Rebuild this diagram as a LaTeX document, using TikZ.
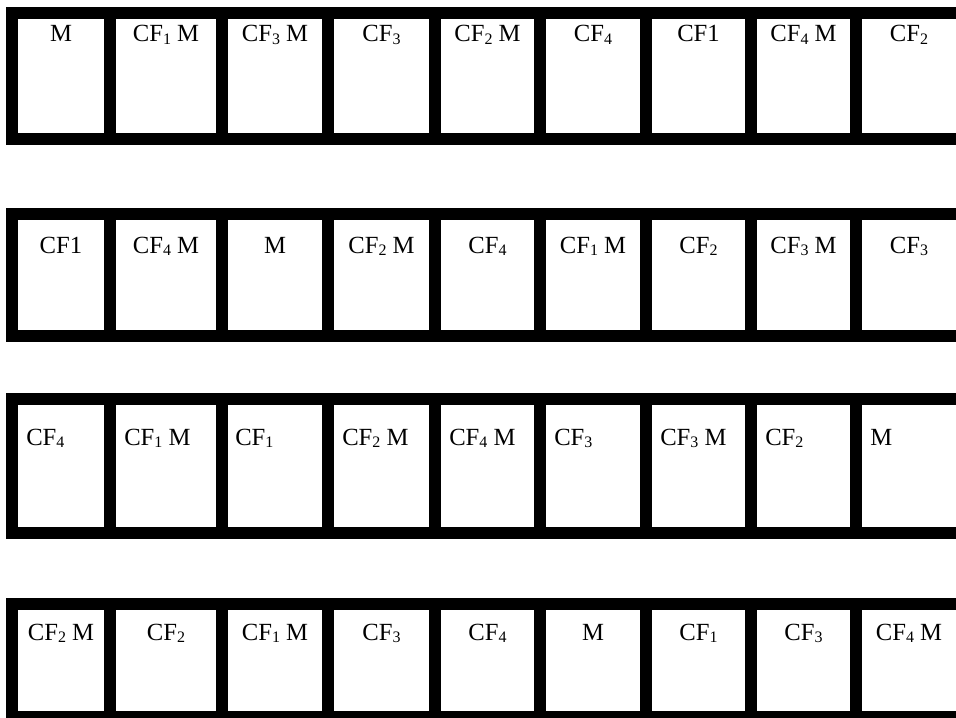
\documentclass[tikz,border=0pt]{standalone}
\usepackage{fontspec}
\setmainfont{Liberation Serif}
\newcommand{\ix}[1]{\raisebox{-0.25ex}{\fontsize{12}{12}\selectfont #1}}
\tikzset{
  bar/.style={fill=black},
  lbl/.style={font=\fontsize{18.5}{21}\selectfont, inner sep=0pt, anchor=base},
  lblw/.style={lbl, anchor=base west}
}
\newcommand{\strip}[2]{%
  \fill[bar] (6,#1) rectangle (956,#1+12);
  \fill[bar] (6,#2-12) rectangle (956,#2);
  \foreach \x in {6,104,216,322,429,534,640,745,850}
    \fill[bar] (\x,#1) rectangle (\x+12,#2);
}
\begin{document}
\begin{tikzpicture}[x=0.75pt,y=-0.75pt]
\useasboundingbox (0,0) rectangle (956,717);
\clip (0,0) rectangle (956,717);

% the four strips
\strip{7}{145}
\strip{208}{342}
\strip{393}{539}
\strip{598}{723}

% row 1
\foreach \c/\t [count=\i] in {61/M, 166/CF\ix{1} M, 275/CF\ix{3} M, 381.5/CF\ix{3},
    487.5/CF\ix{2} M, 593/CF\ix{4}, 698.5/CF1, 803.5/CF\ix{4} M, 909/CF\ix{2}}
  \node[lbl] (a\i) at (\c,42) {\t};

% row 2
\foreach \c/\t [count=\i] in {61/CF1, 166/CF\ix{4} M, 275/M, 381.5/CF\ix{2} M,
    487.5/CF\ix{4}, 593/CF\ix{1} M, 698.5/CF\ix{2}, 803.5/CF\ix{3} M, 909/CF\ix{3}}
  \node[lbl] (b\i) at (\c,253) {\t};

% row 3
\foreach \c/\t [count=\i] in {26/CF\ix{4}, 124/CF\ix{1} M, 235/CF\ix{1}, 342/CF\ix{2} M,
    449/CF\ix{4} M, 554/CF\ix{3}, 660/CF\ix{3} M, 765/CF\ix{2}, 870/M}
  \node[lblw] (c\i) at (\c,445) {\t};

% row 4
\foreach \c/\t [count=\i] in {61/CF\ix{2} M, 166/CF\ix{2}, 275/CF\ix{1} M, 381.5/CF\ix{3},
    487.5/CF\ix{4}, 593/M, 698.5/CF\ix{1}, 803.5/CF\ix{3}, 909/CF\ix{4} M}
  \node[lbl] (d\i) at (\c,640) {\t};
\end{tikzpicture}
\end{document}
